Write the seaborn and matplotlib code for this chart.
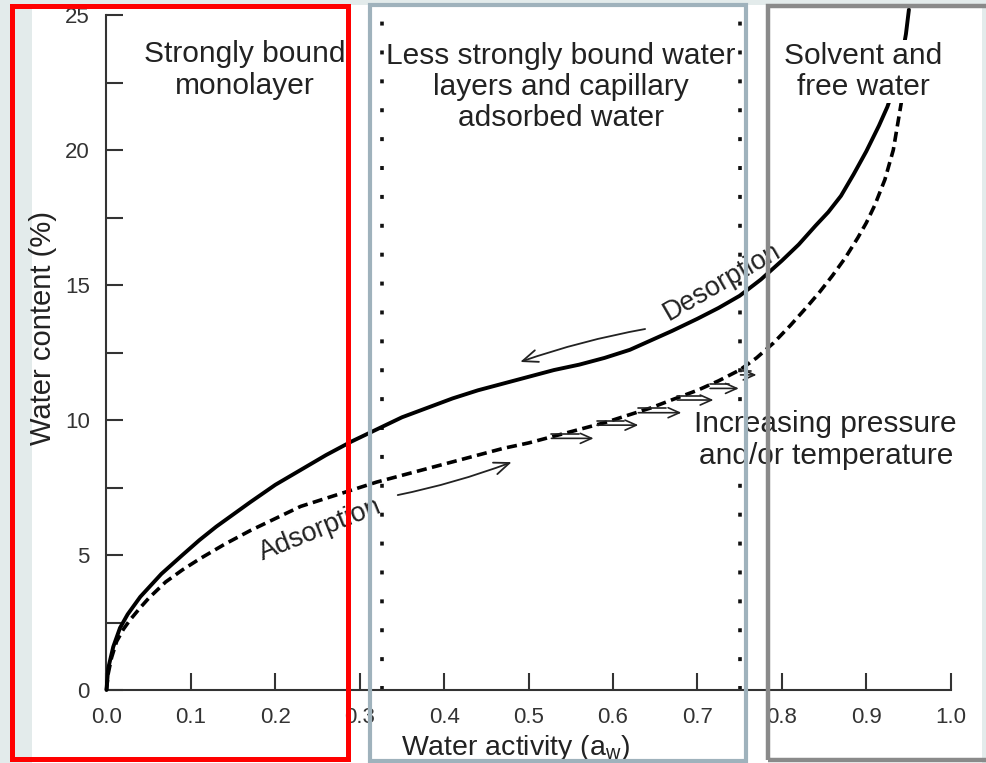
import numpy as np
import pandas as pd
import matplotlib
matplotlib.use("Agg")
import matplotlib.pyplot as plt
import seaborn as sns
from matplotlib.patches import Rectangle

# ---------------- data ----------------
desorption_aw = [0, 0.002, 0.008, 0.016, 0.025, 0.04, 0.065, 0.09, 0.11, 0.13, 0.15, 0.17, 0.20,
                 0.23, 0.26, 0.29, 0.32, 0.35, 0.38, 0.41, 0.44, 0.47, 0.50, 0.53, 0.56, 0.59,
                 0.62, 0.645, 0.67, 0.70, 0.725, 0.75, 0.775, 0.80, 0.82, 0.84, 0.855, 0.87,
                 0.885, 0.90, 0.915, 0.925, 0.935, 0.942, 0.947, 0.9505]
desorption_wc = [0, 0.8, 1.6, 2.3, 2.8, 3.45, 4.3, 5.0, 5.55, 6.05, 6.5, 6.95, 7.6,
                 8.15, 8.7, 9.2, 9.65, 10.1, 10.45, 10.8, 11.1, 11.35, 11.6, 11.85, 12.05, 12.3,
                 12.6, 12.95, 13.3, 13.75, 14.15, 14.6, 15.2, 15.9, 16.5, 17.2, 17.7, 18.3,
                 19.1, 19.95, 20.9, 21.6, 22.5, 23.4, 24.3, 25.2]
adsorption_aw = [0, 0.002, 0.006, 0.012, 0.02, 0.028, 0.04, 0.05, 0.07, 0.09, 0.11, 0.14, 0.17,
                 0.20, 0.23, 0.26, 0.29, 0.32, 0.35, 0.38, 0.41, 0.44, 0.47, 0.50, 0.53, 0.56,
                 0.59, 0.62, 0.645, 0.67, 0.70, 0.725, 0.75, 0.77, 0.79, 0.81, 0.83, 0.845,
                 0.86, 0.875, 0.89, 0.90, 0.91, 0.922, 0.932, 0.942]
adsorption_wc = [0, 0.6, 1.2, 1.8, 2.25, 2.6, 3.05, 3.4, 4.0, 4.45, 4.85, 5.4, 5.9,
                 6.35, 6.8, 7.1, 7.4, 7.7, 7.95, 8.2, 8.45, 8.7, 8.95, 9.15, 9.4, 9.65,
                 9.9, 10.2, 10.45, 10.75, 11.1, 11.45, 11.85, 12.3, 12.85, 13.5, 14.2, 14.75,
                 15.35, 16.0, 16.75, 17.3, 17.95, 18.9, 20.0, 21.85]
region_bounds = [0.326, 0.751]
region_labels = ["Strongly bound\nmonolayer",
                 "Less strongly bound water\nlayers and capillary\nadsorbed water",
                 "Solvent and\nfree water"]
x_ticks = [0.0, 0.1, 0.2, 0.3, 0.4, 0.5, 0.6, 0.7, 0.8, 0.9, 1.0]
x_tick_labels = ["0.0", "0.1", "0.2", "0.3", "0.4", "0.5", "0.6", "0.7", "0.8", "0.9", "1.0"]
y_ticks = [0, 5, 10, 15, 20, 25]
y_minor_ticks = [2.5, 7.5, 12.5, 17.5, 22.5]
# pressure arrows: start aw, end aw, water content
press_start = [0.527, 0.581, 0.630, 0.676, 0.715, 0.751]
press_end = [0.577, 0.630, 0.681, 0.719, 0.749, 0.770]
press_wc = [9.32, 9.81, 10.27, 10.74, 11.17, 11.67]

# ---------------- style ----------------
sns.set_theme(style="white")
plt.rcParams["font.family"] = ["Liberation Sans", "DejaVu Sans"]
TXT = "#222222"
AX = "#333333"

W, H = 987, 763
fig = plt.figure(figsize=(W / 100, H / 100), dpi=100, facecolor="#e3ebeb")
fig.add_artist(Rectangle((32 / W, 0), 950 / W, 758 / H, transform=fig.transFigure,
                         facecolor="white", edgecolor="none", zorder=-5))

ax = fig.add_axes([106.5 / W, 73 / H, 844.2 / W, 675 / H])
ax.set_facecolor("white")

df_des = pd.DataFrame({"aw": desorption_aw, "wc": desorption_wc})
df_ads = pd.DataFrame({"aw": adsorption_aw, "wc": adsorption_wc})
sns.lineplot(data=df_des, x="aw", y="wc", ax=ax, color="black", linewidth=2.8,
             sort=False, estimator=None, clip_on=False, zorder=3)
sns.lineplot(data=df_ads, x="aw", y="wc", ax=ax, color="black", linewidth=2.6,
             linestyle=(0, (2.8, 1.5)), sort=False, estimator=None, clip_on=False, zorder=3)

for b in region_bounds:
    ax.axvline(b, ymin=0, ymax=1, color="#111111", linewidth=2.6,
               linestyle=(0, (1.1, 6.9)), zorder=1)

ax.set_xlim(0, 1.0)
ax.set_ylim(0, 25)
ax.set_xticks(x_ticks)
ax.set_xticklabels(x_tick_labels)
ax.set_yticks(y_ticks)
ax.set_yticks(y_minor_ticks, minor=True)
ax.tick_params(which="both", direction="in", length=12, width=1.5, color=AX,
               bottom=True, left=True, top=False, right=False)
ax.tick_params(axis="x", which="major", labelsize=16, pad=12, labelcolor=AX)
ax.tick_params(axis="y", which="major", labelsize=16, pad=12, labelcolor=AX)
ax.set_xlabel("")
ax.set_ylabel("")
for s in ["top", "right"]:
    ax.spines[s].set_visible(False)
for s in ["left", "bottom"]:
    ax.spines[s].set_linewidth(1.5)
    ax.spines[s].set_color(AX)

# region labels
ax.text(0.164, 22.96, region_labels[0], ha="center", va="center", fontsize=21.5,
        color=TXT, linespacing=1.15, zorder=5)
ax.text(0.538, 22.33, region_labels[1], ha="center", va="center", fontsize=21.5,
        color=TXT, linespacing=1.15, zorder=5)
ax.text(0.896, 22.9, region_labels[2], ha="center", va="center", fontsize=21.5,
        color=TXT, linespacing=1.15, zorder=5,
        bbox=dict(facecolor="white", edgecolor="none", pad=1.5))
ax.text(0.852, 9.26, "Increasing pressure\nand/or temperature", ha="center", va="center",
        fontsize=21.5, color=TXT, linespacing=1.15, zorder=5,
        bbox=dict(facecolor="white", edgecolor="none", pad=1.0))
ax.text(0.729, 15.1, "Desorption", ha="center", va="center", fontsize=19.5, color=TXT,
        rotation=30, rotation_mode="anchor", zorder=5)
ax.text(0.253, 5.93, "Adsorption", ha="center", va="center", fontsize=19.5, color=TXT,
        rotation=22, rotation_mode="anchor", zorder=5)

# arrows
arrow_kw = dict(arrowstyle="->,head_length=0.55,head_width=0.22", lw=1.3, color=TXT,
                shrinkA=0, shrinkB=0, mutation_scale=20)
ax.annotate("", xy=(0.49, 12.15), xytext=(0.638, 13.37),
            arrowprops=dict(connectionstyle="arc3,rad=0.04", **arrow_kw), zorder=4)
ax.annotate("", xy=(0.48, 8.44), xytext=(0.345, 7.22),
            arrowprops=dict(connectionstyle="arc3,rad=0.04", **arrow_kw), zorder=4)
small_kw = dict(arrowstyle="->,head_length=0.45,head_width=0.2", lw=1.2, color=TXT,
                shrinkA=0, shrinkB=0, mutation_scale=18)
for xs, xe, yv in zip(press_start, press_end, press_wc):
    ax.annotate("", xy=(xe, yv), xytext=(xs, yv), arrowprops=small_kw, zorder=4)
    ax.plot([xs, xe - 0.35 * (xe - xs)], [yv + 0.16, yv + 0.16], color=TXT, lw=1.2, zorder=4)

# axis labels
fig.text(43 / W, 1 - 327.5 / H, "Water content (%)", rotation=90, ha="center", va="center",
         fontsize=21, color=TXT)
fig.text(515.5 / W, 1 - 755 / H, "Water activity (a$_\\mathregular{w}$)", ha="center",
         va="baseline", fontsize=20.5, color=TXT)

# coloured region frames (in pixel coords, top-left origin)
def frame(x0, y0, x1, y1, color, lw):
    fig.add_artist(Rectangle((x0 / W, 1 - y1 / H), (x1 - x0) / W, (y1 - y0) / H,
                             transform=fig.transFigure, facecolor="none", edgecolor=color,
                             linewidth=lw, zorder=10))

frame(12, 6, 348, 759, "#ff0000", 3.6)
frame(370, 5.3, 746.5, 760.5, "#9fb2bc", 3.0)
frame(768, 6, 992, 760, "#8a8a8a", 3.2)

fig.savefig("out.png", dpi=100, facecolor=fig.get_facecolor())
